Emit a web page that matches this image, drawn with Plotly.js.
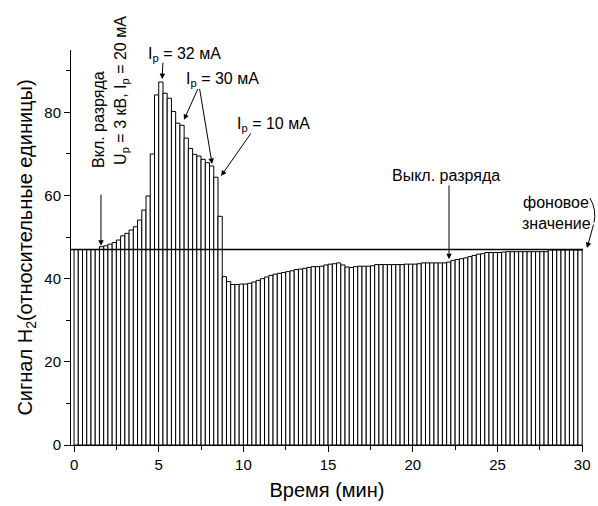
<!DOCTYPE html>
<html>
<head>
<meta charset="utf-8">
<script src="https://cdn.plot.ly/plotly-3.0.1.min.js"></script>
<style>html,body{margin:0;padding:0;background:#fff;}#chart{width:598px;height:506px;}</style>
</head>
<body>
<div id="chart"></div>
<script>
// Bin width (minutes) and measured signal per bin
const binWidth = 0.25;
const signal = [
  47.0, 47.0, 47.0, 47.0, 47.0, 47.0, 47.7, 47.9, 48.3, 48.7,
  49.3, 50.3, 50.9, 51.7, 52.5, 54.1, 56.5, 59.9, 70.0, 84.2,
  87.3, 84.6, 83.4, 80.2, 77.4, 76.9, 73.8, 71.3, 69.9, 69.5,
  68.7, 67.9, 67.1, 64.4, 55.0, 40.5, 39.3, 38.6, 38.6, 38.7,
  38.7, 38.9, 39.2, 39.6, 40.0, 40.4, 40.8, 41.1, 41.3, 41.5,
  41.7, 41.9, 42.2, 42.3, 42.5, 42.7, 42.9, 42.9, 43.0, 43.3,
  43.5, 43.6, 43.8, 43.3, 42.8, 42.7, 42.9, 43.0, 43.0, 43.0,
  43.1, 43.4, 43.4, 43.4, 43.4, 43.4, 43.4, 43.4, 43.5, 43.5,
  43.5, 43.6, 43.8, 43.8, 43.8, 43.8, 43.8, 43.8, 44.0, 44.4,
  44.6, 44.8, 45.0, 45.3, 45.6, 45.9, 46.0, 46.3, 46.3, 46.3,
  46.3, 46.4, 46.5, 46.5, 46.5, 46.5, 46.5, 46.5, 46.5, 46.5,
  46.5, 46.5, 46.9, 46.9, 46.9, 46.9, 46.9, 46.9, 46.9, 46.9
];
const time = signal.map((_, i) => (i + 0.5) * binWidth);
const background = 47.0;
const xTickVals = [0, 5, 10, 15, 20, 25, 30];
const yTickVals = [0, 20, 40, 60, 80];
const xTitle = 'Время (мин)';
const yTitle = 'Сигнал H<sub>2</sub>(относительные единицы)';

const FONT = 'Arial, "Liberation Sans", sans-serif';

const trace = {
  type: 'bar',
  x: time,
  y: signal,
  width: binWidth,
  marker: {color: '#ffffff', line: {color: '#000000', width: 1}},
  hoverinfo: 'skip'
};

function arrow(x, y, ax, ay) {
  return {xref: 'x', yref: 'y', axref: 'x', ayref: 'y', x: x, y: y, ax: ax, ay: ay,
    text: '', showarrow: true, arrowhead: 2, arrowsize: 1.1, arrowwidth: 1, arrowcolor: '#000'};
}
function label(x, y, text, angle) {
  return {xref: 'x', yref: 'y', x: x, y: y, text: text, showarrow: false,
    textangle: angle || 0, font: {family: FONT, size: 16, color: '#000'}};
}

const layout = {
  width: 598, height: 506,
  margin: {l: 71, r: 15, t: 50, b: 61},
  paper_bgcolor: '#fff', plot_bgcolor: '#fff',
  bargap: 0,
  showlegend: false,
  font: {family: FONT, color: '#000', size: 15},
  xaxis: {
    range: [-0.18, 30.05], showgrid: false, zeroline: false,
    showline: true, linecolor: '#000', linewidth: 1,
    ticks: 'outside', ticklen: 6, tickwidth: 1, tickcolor: '#000',
    tickvals: xTickVals, ticktext: xTickVals.map(String),
    tickfont: {family: FONT, size: 15},
    minor: {ticks: 'outside', ticklen: 4, tickwidth: 1, tickcolor: '#000', dtick: 2.5, showgrid: false},
    title: {text: xTitle, font: {family: FONT, size: 20}, standoff: 10}
  },
  yaxis: {
    range: [0, 95], showgrid: false, zeroline: false,
    showline: true, linecolor: '#000', linewidth: 1,
    ticks: 'outside', ticklen: 6, tickwidth: 1, tickcolor: '#000',
    tickvals: yTickVals, ticktext: yTickVals.map(String),
    tickfont: {family: FONT, size: 15},
    minor: {ticks: 'outside', ticklen: 4, tickwidth: 1, tickcolor: '#000', dtick: 10, showgrid: false},
    title: {text: yTitle, font: {family: FONT, size: 20}, standoff: 6}
  },
  shapes: [
    {type: 'line', xref: 'x', yref: 'y', x0: -0.18, x1: 30.2, y0: background, y1: background,
     line: {color: '#000', width: 1.5}, layer: 'above'},
    {type: 'path', xref: 'paper', yref: 'paper',
     path: 'M 1.0137 0.625 Q 1.027 0.595 1.0215 0.563', line: {color: '#000', width: 1}}
  ],
  annotations: [
    label(1.48, 78.2, 'Вкл. разряда', -90),
    label(2.83, 85.4, 'U<sub>p</sub> = 3 кВ, I<sub>p</sub> = 20 мА', -90),
    arrow(1.59, 47.9, 1.59, 60.6),
    label(6.55, 93.8, 'I<sub>p</sub> = 32 мА'),
    arrow(5.2, 88.0, 5.25, 92.3),
    label(8.75, 87.8, 'I<sub>p</sub> = 30 мА'),
    arrow(6.49, 78.2, 7.35, 86.0),
    arrow(8.15, 67.6, 7.4, 86.0),
    label(11.75, 77.2, 'I<sub>p</sub> = 10 мА'),
    arrow(8.68, 64.7, 10.5, 75.3),
    label(21.96, 64.9, 'Выкл. разряда'),
    arrow(22.14, 44.7, 22.14, 62.8),
    label(28.45, 58.4, 'фоновое'),
    label(28.5, 53.2, 'значение'),
    {xref: 'paper', yref: 'paper', x: 1.0078, y: 0.4987, ax: 7, ay: -25, text: '',
     showarrow: true, arrowhead: 2, arrowsize: 1.1, arrowwidth: 1, arrowcolor: '#000'}
  ]
};

Plotly.newPlot('chart', [trace], layout, {displayModeBar: false, staticPlot: true});
</script>
</body>
</html>
